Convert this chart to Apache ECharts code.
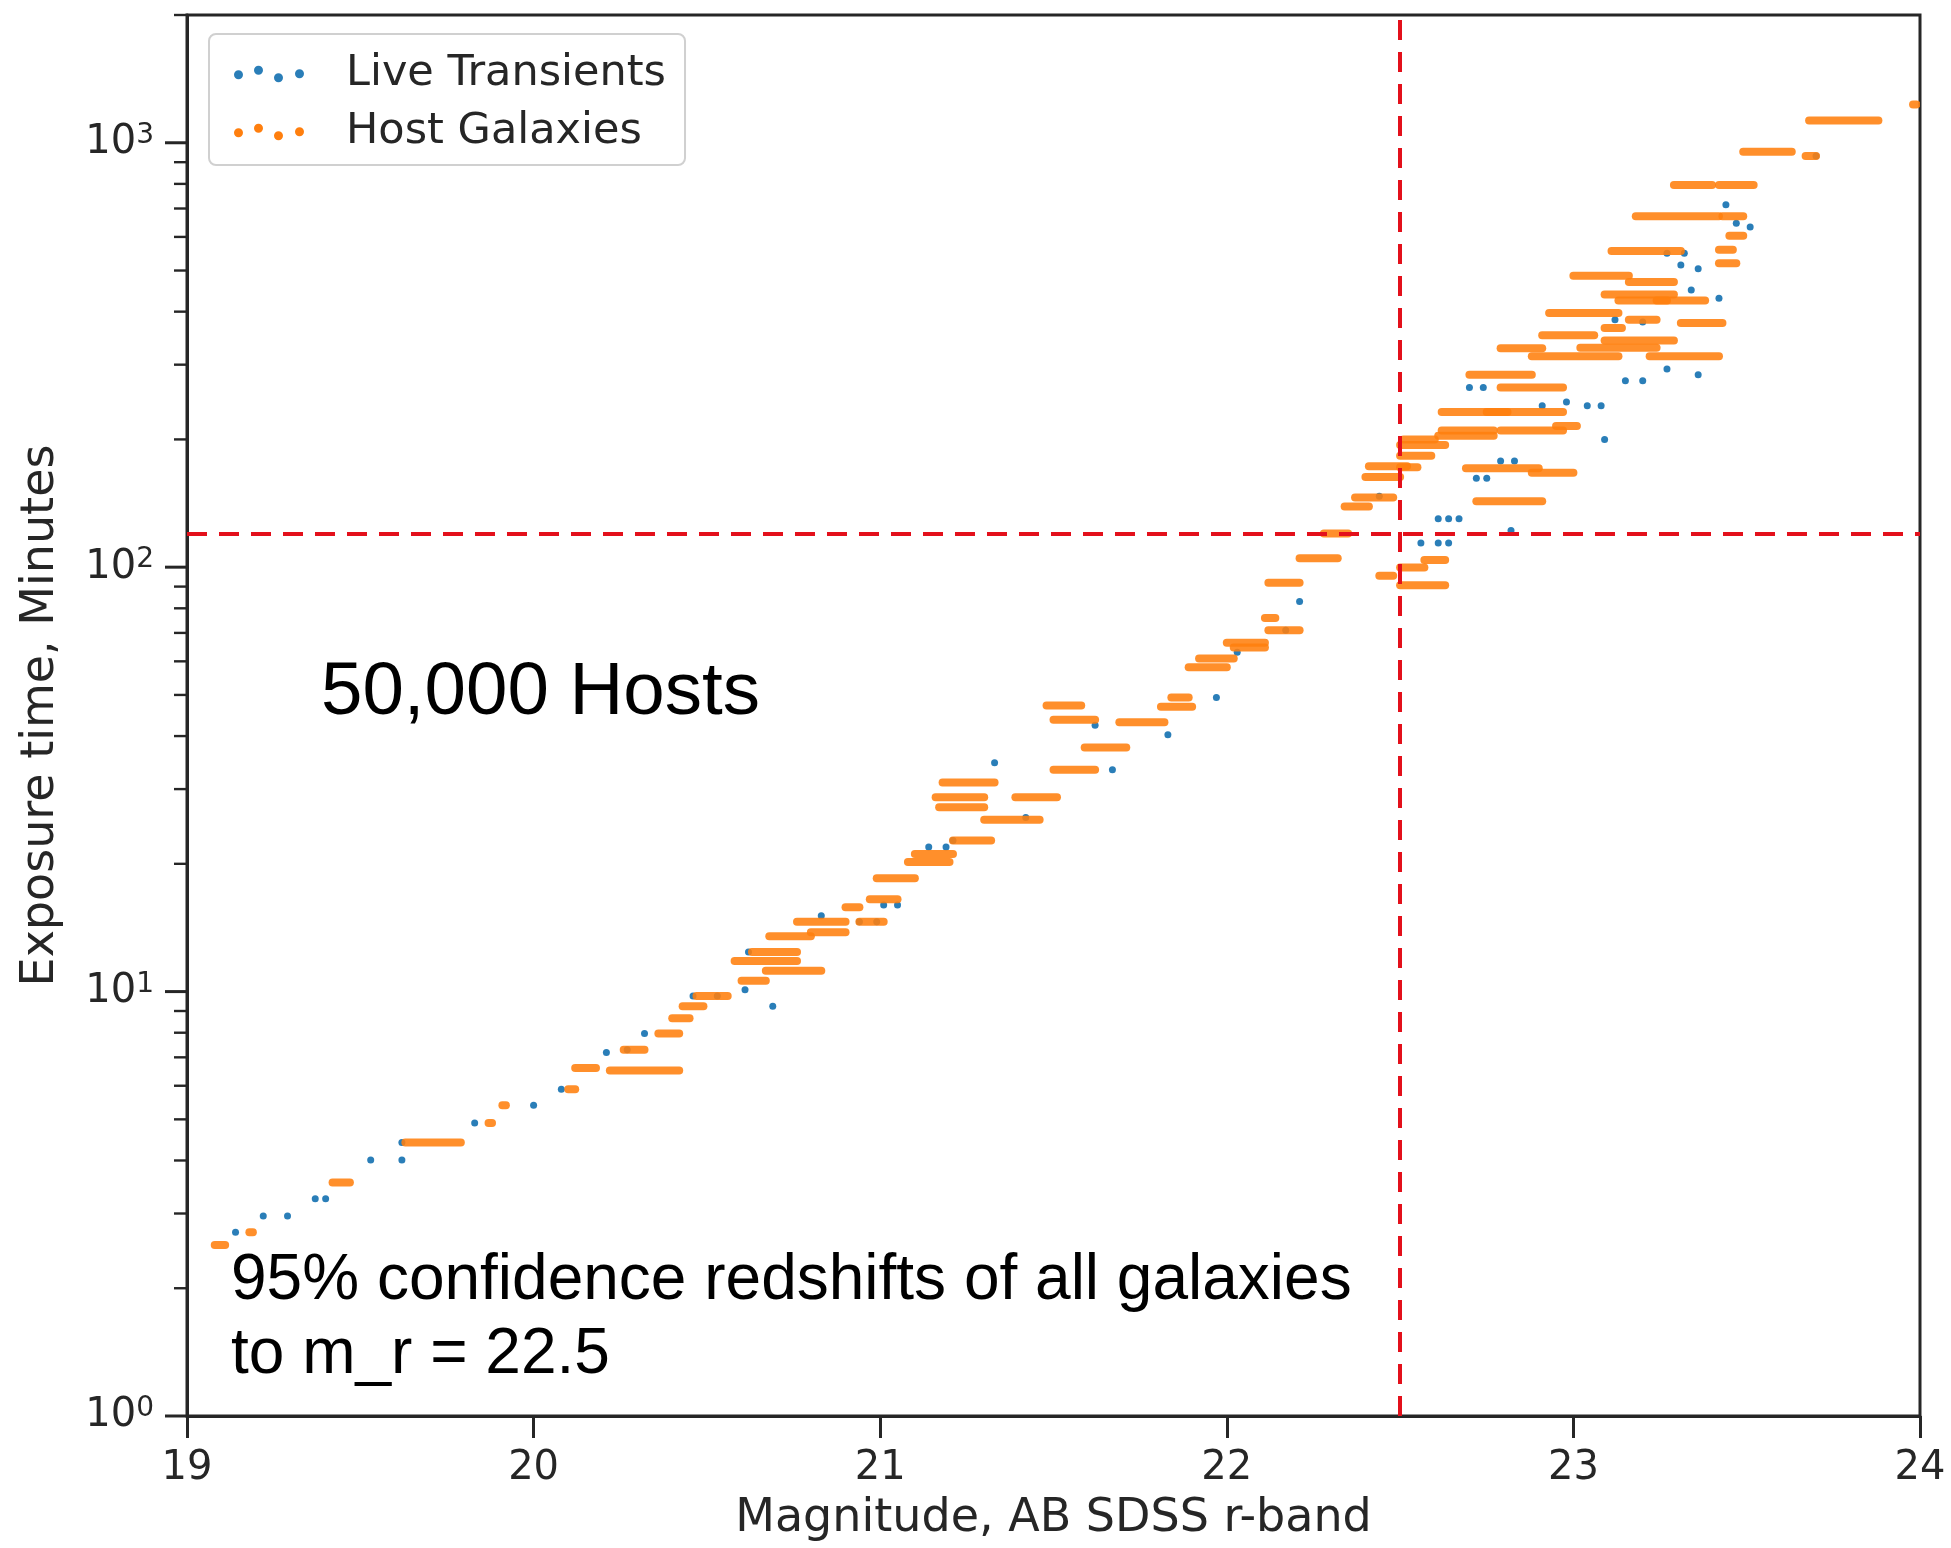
<!DOCTYPE html>
<html>
<head>
<meta charset="utf-8">
<script src="https://cdn.jsdelivr.net/npm/echarts@6/dist/echarts.min.js"></script>
<style>
html,body{margin:0;padding:0;background:#ffffff;}
#chart{width:1951px;height:1548px;}
</style>
</head>
<body>
<div id="chart"></div>
<script>
// ---------------- data ----------------
const xTicks = [19, 20, 21, 22, 23, 24];
const yMajorTicks = [1, 10, 100, 1000];
const yMinorTicks = [2,3,4,5,6,7,8,9,20,30,40,50,60,70,80,90,200,300,400,500,600,700,800,900,2000];
const seriesNames = ['Live Transients', 'Host Galaxies'];
const refMagnitude = 22.5;   // vertical dashed line
const refMinutes = 120;      // horizontal dashed line

// Live transients: [magnitude, exposure minutes]
const transients = [
  [19.14,2.71],[19.22,2.96],[19.29,2.96],[19.37,3.25],[19.40,3.25],[19.53,4.01],[19.62,4.01],[19.62,4.41],
  [19.83,4.90],[20.00,5.40],[20.08,5.89],[20.21,7.19],[20.27,7.29],[20.32,7.97],[20.46,9.76],[20.53,9.76],
  [20.61,10.1],[20.62,12.4],[20.69,9.24],[20.83,15.1],[20.94,14.6],[20.99,14.6],[21.01,16.0],[21.05,16.0],
  [21.14,21.9],[21.19,21.9],[21.21,22.7],[21.33,34.6],[21.42,25.7],[21.62,42.4],[21.67,33.3],[21.83,40.3],
  [21.97,49.3],[22.03,63.0],[22.17,71.0],[22.21,83.0],[22.44,147],[22.56,114],[22.61,114],[22.64,114],
  [22.61,130],[22.64,130],[22.67,130],[22.82,122],[22.72,162],[22.75,162],[22.79,178],[22.83,178],
  [22.91,240],[22.98,245],[23.09,200],[23.12,383],[23.20,378],[23.15,275],[23.20,275],[23.27,293],
  [23.34,450],[23.42,430],[23.31,515],[23.36,505],[23.44,714],[23.47,646],[23.51,633],[23.70,931],
  [23.27,549],[23.32,549],[23.36,284],[22.70,265],[22.74,265],[23.04,240],[23.08,240]
];

// Host galaxies: horizontal runs of points [magnitude start, magnitude end, exposure minutes]
const hostRuns = [
  [19.08,19.11,2.53],[19.18,19.19,2.71],[19.42,19.47,3.55],[19.63,19.79,4.41],[19.87,19.88,4.90],
  [19.91,19.92,5.40],[20.10,20.12,5.89],[20.12,20.18,6.61],[20.22,20.42,6.52],[20.26,20.32,7.29],
  [20.36,20.42,7.97],[20.40,20.45,8.65],[20.43,20.49,9.24],[20.47,20.56,9.76],[20.60,20.67,10.6],
  [20.58,20.76,11.8],[20.63,20.76,12.4],[20.67,20.83,11.2],[20.68,20.80,13.5],[20.80,20.90,13.8],
  [20.76,20.90,14.6],[20.90,20.94,15.8],[20.94,21.01,14.6],[20.97,21.05,16.5],[20.99,21.10,18.5],
  [21.08,21.20,20.2],[21.10,21.21,21.1],[21.16,21.30,28.7],[21.18,21.33,31.1],[21.17,21.30,27.2],
  [21.21,21.32,22.7],[21.30,21.46,25.4],[21.39,21.51,28.7],[21.48,21.58,47.2],[21.50,21.62,43.7],
  [21.50,21.62,33.3],[21.59,21.71,37.6],[21.69,21.82,43.1],[21.81,21.90,46.9],[21.84,21.89,49.3],
  [21.89,22.00,58.1],[21.92,22.02,60.9],[22.00,22.11,66.4],[22.02,22.11,64.7],[22.11,22.14,75.9],
  [22.12,22.21,71.0],[22.12,22.21,91.9],[22.21,22.32,105],[22.28,22.35,120],[22.34,22.41,139],
  [22.37,22.48,146],[22.40,22.50,163],[22.41,22.52,173],[22.44,22.48,95.5],[22.50,22.63,90.7],
  [22.50,22.57,99.8],[22.57,22.63,104],[22.50,22.63,194],[22.50,22.59,183],[22.61,22.77,204],
  [22.62,22.77,210],[22.69,22.90,171],[22.72,22.91,143],[22.88,23.00,167],[22.62,22.81,232],
  [22.75,22.97,232],[22.95,23.01,215],[22.79,22.97,210],[22.70,22.88,284],[22.79,22.97,265],
  [22.79,22.91,328],[22.88,23.13,314],[23.22,23.42,314],[22.91,23.06,352],[22.93,23.13,397],
  [23.16,23.24,383],[23.31,23.43,376],[23.00,23.16,486],[23.16,23.29,470],[23.09,23.29,439],
  [23.24,23.38,425],[23.11,23.31,556],[23.42,23.47,520],[23.18,23.42,671],[23.45,23.49,604],
  [23.29,23.40,795],[23.42,23.52,795],[23.49,23.63,953],[23.67,23.70,931],[23.68,23.88,1128],
  [23.98,23.99,1231],
  [23.43,23.49,671],[23.42,23.46,560],[23.09,23.14,366],[23.09,23.29,342],[23.02,23.24,329],
  [23.13,23.27,425],[22.50,22.55,172],[22.51,22.60,200]
];

// ---------------- chart ----------------
const INK = '#262626';
const BLUE = '#1f77b4';
const ORANGE = '#ff7f0e';
const RED = '#e3101b';
const TICK_FONT = 'DejaVu Sans';
const dotsIcon = 'path://M0,9a4.5,4.5 0 1,0 9,0a4.5,4.5 0 1,0 -9,0Z M20,4.5a4.5,4.5 0 1,0 9,0a4.5,4.5 0 1,0 -9,0Z M40,12a4.5,4.5 0 1,0 9,0a4.5,4.5 0 1,0 -9,0Z M61,8a4.5,4.5 0 1,0 9,0a4.5,4.5 0 1,0 -9,0Z';

const yTickData = yMajorTicks.map(v => [xTicks[0], v, 1]).concat(yMinorTicks.map(v => [xTicks[0], v, 0]));

const chart = echarts.init(document.getElementById('chart'), null, {renderer: 'canvas'});
chart.setOption({
  animation: false,
  backgroundColor: '#ffffff',
  grid: {left: 187, right: 31, top: 15, bottom: 132, show: true, borderColor: INK, borderWidth: 3, backgroundColor: 'transparent'},
  legend: {
    orient: 'vertical', left: 209, top: 34,
    padding: [18, 19, 11, 25],
    itemGap: 14, itemWidth: 70, itemHeight: 17,
    backgroundColor: 'rgba(255,255,255,0.85)',
    borderColor: '#d0d0d0', borderWidth: 2, borderRadius: 7,
    textStyle: {fontFamily: TICK_FONT, fontSize: 43, color: INK, lineHeight: 44, padding: [0, 0, 0, 37]},
    data: [{name: seriesNames[0], icon: dotsIcon}, {name: seriesNames[1], icon: dotsIcon}]
  },
  xAxis: {
    type: 'value', min: xTicks[0], max: xTicks[xTicks.length - 1], interval: 1,
    name: 'Magnitude, AB SDSS r-band', nameLocation: 'middle', nameGap: 80,
    nameTextStyle: {fontFamily: TICK_FONT, fontSize: 46, color: INK},
    axisLine: {show: true, lineStyle: {color: INK, width: 3}},
    axisTick: {show: true, inside: false, length: 22, lineStyle: {color: INK, width: 3}},
    axisLabel: {show: true, margin: 33, fontFamily: TICK_FONT, fontSize: 40, color: INK},
    splitLine: {show: false}
  },
  yAxis: {
    type: 'log', logBase: 10, min: 1, max: 2000,
    name: 'Exposure time, Minutes', nameLocation: 'middle', nameGap: 123,
    nameTextStyle: {fontFamily: TICK_FONT, fontSize: 46, color: INK},
    axisLine: {show: true, lineStyle: {color: INK, width: 3}},
    axisTick: {show: false},
    axisLabel: {
      show: true, margin: 33, fontFamily: TICK_FONT, fontSize: 40, color: INK,
      formatter: function (v) {
        const e = Math.log10(v), r = Math.round(e);
        if (Math.abs(e - r) > 1e-6 || yMajorTicks.indexOf(Math.pow(10, r)) < 0) return '';
        return '{b|10}{s|' + r + '}';
      },
      rich: {
        b: {fontFamily: TICK_FONT, fontSize: 40, color: INK},
        s: {fontFamily: TICK_FONT, fontSize: 28, color: INK, padding: [0, 0, 14, 0]}
      }
    },
    splitLine: {show: false}
  },
  graphic: [
    {type: 'text', x: 321, y: 693, z: 100, style: {text: '50,000 Hosts', fontFamily: 'Liberation Sans', fontSize: 74.5, fill: '#000000', verticalAlign: 'middle', align: 'left'}},
    {type: 'text', x: 231, y: 1281, z: 100, style: {text: '95% confidence redshifts of all galaxies', fontFamily: 'Liberation Sans', fontSize: 64, fill: '#000000', verticalAlign: 'middle', align: 'left'}},
    {type: 'text', x: 231, y: 1355, z: 100, style: {text: 'to m_r = 22.5', fontFamily: 'Liberation Sans', fontSize: 64, fill: '#000000', verticalAlign: 'middle', align: 'left'}}
  ],
  series: [
    {
      name: seriesNames[0], type: 'scatter', z: 2,
      symbol: 'circle', symbolSize: 7,
      itemStyle: {color: BLUE, opacity: 0.95},
      data: transients,
      markLine: {
        silent: true, symbol: ['none', 'none'], label: {show: false}, z: 10,
        lineStyle: {color: RED, width: 4, type: [20, 12], opacity: 1},
        data: [{xAxis: refMagnitude}, {yAxis: refMinutes}]
      }
    },
    {
      name: seriesNames[1], type: 'custom', z: 3,
      itemStyle: {color: ORANGE},
      encode: {x: [0, 1], y: 2},
      data: hostRuns,
      clip: true,
      renderItem: function (params, api) {
        const a = api.coord([api.value(0), api.value(2)]);
        const b = api.coord([api.value(1), api.value(2)]);
        return {type: 'line', shape: {x1: a[0], y1: a[1], x2: b[0], y2: b[1]},
          style: {stroke: ORANGE, lineWidth: 8, lineCap: 'round', opacity: 0.88}};
      }
    },
    {
      name: 'yTicks', type: 'custom', z: 5, silent: true, clip: false,
      encode: {x: 0, y: 1},
      data: yTickData,
      renderItem: function (params, api) {
        const p = api.coord([api.value(0), api.value(1)]);
        const major = api.value(2) === 1;
        const len = major ? 22 : 13;
        return {type: 'line', shape: {x1: p[0] - len, y1: p[1], x2: p[0], y2: p[1]},
          style: {stroke: INK, lineWidth: major ? 3 : 2.4}};
      }
    }
  ]
});
</script>
</body>
</html>
